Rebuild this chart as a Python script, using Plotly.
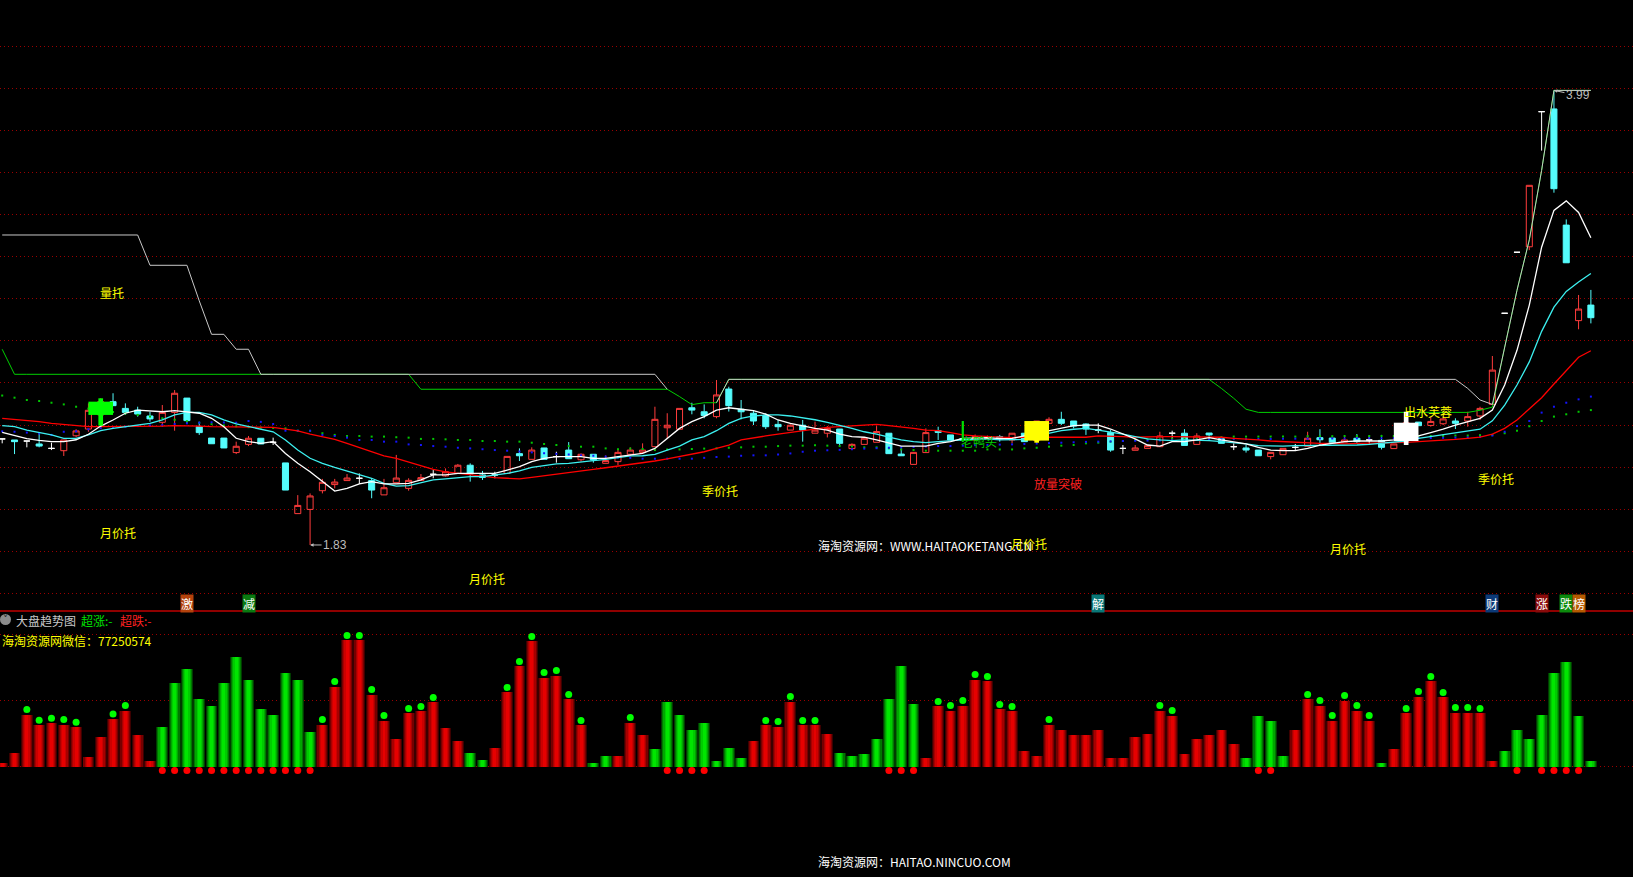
import plotly.graph_objects as go

# ---------------- data ----------------
N = 130
idx = list(range(N))

opens = [2.334, 2.329, 2.324, 2.310, 2.289, 2.278, 2.349, 2.381, 2.448, 2.511,
         2.479, 2.471, 2.443, 2.413, 2.460, 2.528, 2.392, 2.338, 2.338, 2.269,
         2.308, 2.337, 2.318, 2.220, 1.979, 1.999, 2.088, 2.117, 2.136, 2.147,
         2.136, 2.068, 2.126, 2.099, 2.137, 2.166, 2.158, 2.170, 2.209, 2.163,
         2.163, 2.170, 2.264, 2.237, 2.291, 2.250, 2.281, 2.235, 2.261, 2.218,
         2.226, 2.261, 2.270, 2.297, 2.387, 2.380, 2.482, 2.463, 2.440, 2.571,
         2.475, 2.456, 2.445, 2.403, 2.376, 2.399, 2.361, 2.361, 2.381, 2.288,
         2.308, 2.318, 2.361, 2.262, 2.213, 2.269, 2.373, 2.353, 2.335, 2.329,
         2.335, 2.345, 2.329, 2.361, 2.326, 2.408, 2.427, 2.419, 2.405, 2.376,
         2.364, 2.289, 2.280, 2.289, 2.297, 2.361, 2.361, 2.308, 2.362, 2.335,
         2.297, 2.291, 2.281, 2.250, 2.259, 2.294, 2.299, 2.340, 2.338, 2.319,
         2.337, 2.329, 2.327, 2.288, 2.324, 2.414, 2.398, 2.406, 2.419, 2.419,
         2.443, 2.498, 2.931, 3.221, 3.247, 3.889, 3.902, 3.350, 2.896, 2.970]
highs = [2.334, 2.329, 2.324, 2.360, 2.316, 2.329, 2.380, 2.503, 2.527, 2.551,
         2.503, 2.487, 2.463, 2.495, 2.566, 2.528, 2.416, 2.338, 2.338, 2.321,
         2.348, 2.337, 2.340, 2.220, 2.067, 2.075, 2.144, 2.144, 2.167, 2.170,
         2.147, 2.144, 2.258, 2.147, 2.167, 2.186, 2.194, 2.215, 2.218, 2.182,
         2.178, 2.251, 2.289, 2.294, 2.291, 2.273, 2.319, 2.265, 2.261, 2.256,
         2.286, 2.294, 2.313, 2.487, 2.456, 2.479, 2.506, 2.498, 2.614, 2.582,
         2.519, 2.471, 2.456, 2.424, 2.403, 2.424, 2.416, 2.395, 2.381, 2.313,
         2.337, 2.395, 2.361, 2.289, 2.270, 2.384, 2.392, 2.353, 2.345, 2.355,
         2.350, 2.353, 2.361, 2.361, 2.419, 2.437, 2.463, 2.419, 2.408, 2.408,
         2.376, 2.305, 2.305, 2.302, 2.368, 2.373, 2.380, 2.361, 2.362, 2.342,
         2.313, 2.305, 2.281, 2.270, 2.289, 2.310, 2.368, 2.380, 2.338, 2.348,
         2.357, 2.348, 2.353, 2.310, 2.463, 2.414, 2.440, 2.440, 2.432, 2.463,
         2.487, 2.728, 2.931, 3.221, 3.539, 3.889, 3.990, 3.377, 3.018, 3.042]
lows = [2.313, 2.262, 2.294, 2.294, 2.281, 2.253, 2.342, 2.368, 2.397, 2.492,
        2.448, 2.440, 2.416, 2.392, 2.373, 2.408, 2.353, 2.311, 2.291, 2.262,
        2.300, 2.310, 2.305, 2.091, 1.979, 1.830, 2.075, 2.099, 2.136, 2.120,
        2.052, 2.068, 2.126, 2.088, 2.137, 2.147, 2.155, 2.170, 2.131, 2.139,
        2.147, 2.170, 2.229, 2.237, 2.237, 2.221, 2.240, 2.226, 2.221, 2.218,
        2.209, 2.253, 2.265, 2.297, 2.337, 2.380, 2.451, 2.432, 2.432, 2.464,
        2.427, 2.400, 2.381, 2.373, 2.376, 2.321, 2.361, 2.341, 2.300, 2.285,
        2.308, 2.318, 2.264, 2.254, 2.213, 2.269, 2.329, 2.329, 2.321, 2.325,
        2.329, 2.321, 2.313, 2.321, 2.316, 2.408, 2.400, 2.384, 2.353, 2.361,
        2.273, 2.262, 2.280, 2.289, 2.297, 2.321, 2.303, 2.308, 2.329, 2.313,
        2.281, 2.269, 2.254, 2.237, 2.259, 2.281, 2.299, 2.305, 2.314, 2.319,
        2.310, 2.305, 2.284, 2.288, 2.305, 2.397, 2.392, 2.400, 2.381, 2.392,
        2.424, 2.498, 2.931, 3.221, 3.231, 3.704, 3.504, 3.171, 2.855, 2.883]
closes = [2.334, 2.321, 2.324, 2.300, 2.289, 2.329, 2.372, 2.470, 2.511, 2.492,
          2.460, 2.452, 2.429, 2.460, 2.551, 2.421, 2.364, 2.311, 2.291, 2.299,
          2.337, 2.310, 2.318, 2.091, 2.018, 2.063, 2.128, 2.129, 2.148, 2.147,
          2.091, 2.102, 2.148, 2.137, 2.150, 2.166, 2.178, 2.209, 2.167, 2.151,
          2.163, 2.251, 2.254, 2.281, 2.237, 2.250, 2.240, 2.261, 2.234, 2.231,
          2.270, 2.281, 2.281, 2.427, 2.399, 2.479, 2.471, 2.445, 2.543, 2.492,
          2.463, 2.419, 2.392, 2.392, 2.399, 2.376, 2.376, 2.384, 2.313, 2.308,
          2.337, 2.369, 2.264, 2.254, 2.270, 2.364, 2.365, 2.329, 2.329, 2.345,
          2.345, 2.334, 2.361, 2.321, 2.419, 2.427, 2.408, 2.395, 2.381, 2.376,
          2.281, 2.289, 2.291, 2.302, 2.348, 2.361, 2.303, 2.348, 2.353, 2.313,
          2.297, 2.281, 2.254, 2.270, 2.289, 2.294, 2.337, 2.330, 2.314, 2.329,
          2.321, 2.329, 2.294, 2.310, 2.411, 2.397, 2.417, 2.429, 2.408, 2.440,
          2.479, 2.661, 2.931, 3.221, 3.539, 3.889, 3.523, 3.171, 2.951, 2.910]

ma_white = [2.365, 2.351, 2.335, 2.327, 2.321, 2.321, 2.330, 2.356, 2.395, 2.424,
            2.456, 2.471, 2.468, 2.463, 2.468, 2.463, 2.456, 2.432, 2.392, 2.337,
            2.321, 2.313, 2.321, 2.265, 2.218, 2.178, 2.131, 2.086, 2.099, 2.120,
            2.131, 2.120, 2.120, 2.123, 2.139, 2.163, 2.163, 2.170, 2.170, 2.170,
            2.170, 2.186, 2.202, 2.226, 2.242, 2.250, 2.250, 2.250, 2.242, 2.242,
            2.250, 2.258, 2.265, 2.289, 2.337, 2.384, 2.416, 2.440, 2.471, 2.482,
            2.475, 2.468, 2.452, 2.424, 2.408, 2.395, 2.384, 2.376, 2.357, 2.345,
            2.342, 2.329, 2.313, 2.300, 2.300, 2.300, 2.313, 2.321, 2.337, 2.337,
            2.340, 2.335, 2.337, 2.348, 2.361, 2.373, 2.387, 2.397, 2.400, 2.400,
            2.381, 2.357, 2.334, 2.305, 2.300, 2.321, 2.321, 2.329, 2.340, 2.329,
            2.321, 2.310, 2.294, 2.281, 2.278, 2.278, 2.289, 2.305, 2.313, 2.321,
            2.324, 2.324, 2.324, 2.329, 2.337, 2.348, 2.364, 2.380, 2.400, 2.416,
            2.432, 2.471, 2.590, 2.755, 2.970, 3.245, 3.420, 3.465, 3.410, 3.290]
ma_cyan = [2.397, 2.392, 2.376, 2.364, 2.353, 2.337, 2.337, 2.353, 2.373, 2.384,
           2.392, 2.400, 2.408, 2.424, 2.448, 2.460, 2.460, 2.448, 2.424, 2.405,
           2.392, 2.381, 2.368, 2.329, 2.281, 2.242, 2.218, 2.199, 2.182, 2.163,
           2.147, 2.123, 2.110, 2.112, 2.126, 2.139, 2.144, 2.151, 2.155, 2.155,
           2.163, 2.170, 2.182, 2.199, 2.207, 2.215, 2.218, 2.226, 2.231, 2.237,
           2.246, 2.253, 2.254, 2.261, 2.281, 2.300, 2.329, 2.345, 2.373, 2.408,
           2.432, 2.443, 2.448, 2.448, 2.443, 2.435, 2.425, 2.413, 2.400, 2.384,
           2.368, 2.357, 2.342, 2.329, 2.321, 2.316, 2.321, 2.326, 2.329, 2.332,
           2.334, 2.329, 2.329, 2.332, 2.348, 2.361, 2.373, 2.380, 2.384, 2.376,
           2.368, 2.357, 2.345, 2.334, 2.329, 2.326, 2.329, 2.329, 2.326, 2.321,
           2.316, 2.310, 2.302, 2.300, 2.300, 2.302, 2.302, 2.302, 2.303, 2.305,
           2.305, 2.308, 2.313, 2.316, 2.324, 2.337, 2.345, 2.353, 2.361, 2.372,
           2.380, 2.420, 2.495, 2.590, 2.700, 2.845, 2.960, 3.035, 3.080, 3.120]
ma_red = [2.432, 2.427, 2.421, 2.416, 2.408, 2.403, 2.397, 2.392, 2.392, 2.392,
          2.395, 2.395, 2.395, 2.395, 2.397, 2.397, 2.395, 2.392, 2.392, 2.392,
          2.392, 2.392, 2.389, 2.380, 2.372, 2.357, 2.345, 2.332, 2.313, 2.294,
          2.273, 2.253, 2.242, 2.225, 2.205, 2.189, 2.177, 2.170, 2.163, 2.155,
          2.150, 2.147, 2.144, 2.151, 2.158, 2.166, 2.174, 2.182, 2.189, 2.197,
          2.205, 2.210, 2.218, 2.229, 2.239, 2.250, 2.261, 2.273, 2.289, 2.305,
          2.329, 2.340, 2.348, 2.357, 2.365, 2.372, 2.378, 2.389, 2.392, 2.395,
          2.400, 2.403, 2.397, 2.392, 2.384, 2.376, 2.373, 2.364, 2.353, 2.348,
          2.345, 2.342, 2.340, 2.342, 2.342, 2.342, 2.342, 2.342, 2.342, 2.348,
          2.348, 2.345, 2.342, 2.345, 2.345, 2.345, 2.345, 2.345, 2.342, 2.342,
          2.337, 2.334, 2.329, 2.324, 2.321, 2.318, 2.316, 2.313, 2.313, 2.310,
          2.313, 2.313, 2.313, 2.316, 2.318, 2.321, 2.324, 2.329, 2.332, 2.337,
          2.342, 2.357, 2.384, 2.424, 2.475, 2.530, 2.595, 2.660, 2.722, 2.753]

step_grey = [3.303, 3.303, 3.303, 3.303, 3.303, 3.303, 3.303, 3.303, 3.303, 3.303,
             3.303, 3.303, 3.159, 3.159, 3.159, 3.159, 2.990, 2.831, 2.831, 2.760,
             2.760, 2.641, 2.641, 2.641, 2.641, 2.641, 2.641, 2.641, 2.641, 2.641,
             2.641, 2.641, 2.641, 2.641, 2.641, 2.641, 2.641, 2.641, 2.641, 2.641,
             2.641, 2.641, 2.641, 2.641, 2.641, 2.641, 2.641, 2.641, 2.641, 2.641,
             2.641, 2.641, 2.641, 2.641, 2.570, None, None, None, 2.506, 2.617,
             2.617, 2.617, 2.617, 2.617, 2.617, 2.617, 2.617, 2.617, 2.617, 2.617,
             2.617, 2.617, 2.617, 2.617, 2.617, 2.617, 2.617, 2.617, 2.617, 2.617,
             2.617, 2.617, 2.617, 2.617, 2.617, 2.617, 2.617, 2.617, 2.617, 2.617,
             2.617, 2.617, 2.617, 2.617, 2.617, 2.617, 2.617, 2.617, 2.617, 2.617,
             2.617, 2.617, 2.617, 2.617, 2.617, 2.617, 2.617, 2.617, 2.617, 2.617,
             2.617, 2.617, 2.617, 2.617, 2.617, 2.617, 2.617, 2.617, 2.617, 2.574,
             2.519, 2.498, 2.770, 3.040, 3.280, 3.610, 3.990, 3.990, 3.990, 3.990]
step_green = [2.760, 2.641, 2.641, 2.641, 2.641, 2.641, 2.641, 2.641, 2.641, 2.641,
              2.641, 2.641, 2.641, 2.641, 2.641, 2.641, 2.641, 2.641, 2.641, 2.641,
              2.641, 2.641, 2.641, 2.641, 2.641, 2.641, 2.641, 2.641, 2.641, 2.641,
              2.641, 2.641, 2.641, 2.641, 2.570, 2.570, 2.570, 2.570, 2.570, 2.570,
              2.570, 2.570, 2.570, 2.570, 2.570, 2.570, 2.570, 2.570, 2.570, 2.570,
              2.570, 2.570, 2.570, 2.570, 2.570, 2.535, 2.497, 2.506, 2.506, 2.617,
              2.617, 2.617, 2.617, 2.617, 2.617, 2.617, 2.617, 2.617, 2.617, 2.617,
              2.617, 2.617, 2.617, 2.617, 2.617, 2.617, 2.617, 2.617, 2.617, 2.617,
              2.617, 2.617, 2.617, 2.617, 2.617, 2.617, 2.617, 2.617, 2.617, 2.617,
              2.617, 2.617, 2.617, 2.617, 2.617, 2.617, 2.617, 2.617, 2.617, 2.574,
              2.527, 2.475, 2.460, 2.460, 2.460, 2.460, 2.460, 2.460, 2.460, 2.460,
              2.460, 2.460, 2.460, 2.460, 2.460, 2.460, 2.460, 2.460, 2.460, 2.460,
              2.470, 2.485, 2.770, 3.040, 3.280, 3.610, 3.990, 3.990, 3.990, 3.990]

dots_green = [2.540, 2.530, 2.519, 2.514, 2.506, 2.498, 2.487, 2.478, 2.470, 2.462,
              2.455, 2.448, 2.440, 2.432, 2.425, 2.418, 2.410, 2.404, 2.398, 2.394,
              2.390, 2.388, 2.386, 2.384, 2.373, 2.372, 2.361, 2.353, 2.348, 2.348,
              2.345, 2.345, 2.342, 2.340, 2.334, 2.334, 2.332, 2.329, 2.329, 2.324,
              2.324, 2.321, 2.321, 2.316, 2.310, 2.305, 2.300, 2.297, 2.297, 2.289,
              2.285, 2.288, 2.286, 2.281, 2.284, 2.284, 2.286, 2.288, 2.289, 2.292,
              2.294, 2.297, 2.297, 2.300, 2.302, 2.302, 2.304, 2.302, 2.300, 2.298,
              2.294, 2.294, 2.289, 2.284, 2.281, 2.278, 2.278, 2.278, 2.278, 2.278,
              2.284, 2.284, 2.284, 2.289, 2.292, 2.297, 2.302, 2.305, 2.313, 2.316,
              2.321, 2.324, 2.329, 2.332, 2.332, 2.335, 2.335, 2.337, 2.340, 2.342,
              2.345, 2.345, 2.345, 2.345, 2.345, 2.345, 2.347, 2.347, 2.347, 2.348,
              2.348, 2.348, 2.348, 2.348, 2.348, 2.348, 2.348, 2.348, 2.350, 2.350,
              2.352, 2.353, 2.361, 2.373, 2.394, 2.419, 2.440, 2.451, 2.463, 2.471]
dots_blue = [2.370, 2.368, 2.364, 2.360, 2.353, 2.368, 2.370, 2.380, 2.385, 2.390,
             2.392, 2.395, 2.398, 2.400, 2.405, 2.408, 2.411, 2.413, 2.412, 2.411,
             2.419, 2.415, 2.405, 2.373, 2.373, 2.373, 2.353, 2.348, 2.340, 2.329,
             2.329, 2.321, 2.321, 2.308, 2.305, 2.300, 2.297, 2.292, 2.289, 2.285,
             2.281, 2.278, 2.274, 2.270, 2.266, 2.263, 2.260, 2.256, 2.254, 2.250,
             2.246, 2.244, 2.240, 2.240, 2.240, 2.240, 2.240, 2.244, 2.248, 2.250,
             2.254, 2.256, 2.256, 2.260, 2.265, 2.273, 2.278, 2.280, 2.282, 2.285,
             2.288, 2.290, 2.292, 2.294, 2.296, 2.298, 2.300, 2.300, 2.302, 2.304,
             2.305, 2.307, 2.308, 2.310, 2.312, 2.314, 2.316, 2.318, 2.320, 2.321,
             2.322, 2.324, 2.325, 2.326, 2.327, 2.328, 2.329, 2.330, 2.331, 2.332,
             2.333, 2.333, 2.334, 2.334, 2.335, 2.335, 2.335, 2.336, 2.336, 2.336,
             2.337, 2.337, 2.337, 2.337, 2.338, 2.338, 2.338, 2.339, 2.340, 2.341,
             2.343, 2.350, 2.368, 2.395, 2.419, 2.459, 2.487, 2.506, 2.522, 2.535]

# highlighted signal candles (thick blocks)
sig_k = [8, 84, 114]
sig_top = [2.511, 2.419, 2.411]
sig_bottom = [2.448, 2.326, 2.324]
sig_high = [2.527, 2.419, 2.463]
sig_low = [2.397, 2.316, 2.305]
sig_color = ["#00ff00", "#ffff00", "#ffffff"]
duck_k = [78]
duck_high = [2.419]
duck_low = [2.321]

# lower panel (大盘趋势图)
trend_vals = [2.5, 10.6, 39.4, 31.3, 32.8, 31.8, 29.8, 7.1, 22.7, 35.9,
              42.4, 23.7, 4.5, 30.3, 62.9, 73.5, 50.8, 45.5, 63.6, 83.3,
              65.2, 43.9, 39.4, 70.5, 65.9, 26.5, 31.8, 60.6, 95.5, 95.5,
              54.5, 34.8, 20.5, 40.2, 41.7, 48.5, 28.8, 19.7, 10.6, 5.3,
              14.4, 56.1, 75.8, 94.7, 67.4, 68.9, 50.8, 31.1, 2.3, 7.6,
              8.3, 33.3, 24.2, 12.9, 48.5, 39.4, 28.0, 33.3, 4.5, 14.4,
              6.8, 19.7, 31.1, 30.3, 49.2, 31.1, 31.1, 25.0, 10.6, 7.6,
              9.8, 20.5, 51.5, 75.8, 47.7, 6.1, 45.5, 42.4, 46.2, 65.9,
              64.4, 43.2, 41.7, 12.1, 8.3, 31.8, 28.0, 24.2, 23.5, 28.0,
              6.8, 6.8, 22.0, 25.0, 42.4, 38.6, 9.1, 20.5, 23.5, 27.3,
              17.4, 6.8, 37.9, 34.8, 7.6, 28.0, 50.8, 46.2, 34.8, 50.0,
              42.4, 34.8, 3.0, 12.9, 40.2, 53.0, 64.4, 52.3, 40.9, 40.9,
              40.2, 4.5, 12.1, 28.0, 21.2, 39.4, 70.5, 79.5, 38.6, 3.8]
trend_cols = ["r", "r", "r", "r", "r", "r", "r", "r", "r", "r",
              "r", "r", "r", "g", "g", "g", "g", "g", "g", "g",
              "g", "g", "g", "g", "g", "g", "r", "r", "r", "r",
              "r", "r", "r", "r", "r", "r", "r", "r", "g", "g",
              "r", "r", "r", "r", "r", "r", "r", "r", "g", "g",
              "r", "r", "r", "g", "g", "g", "g", "g", "g", "g",
              "g", "r", "r", "r", "r", "r", "r", "r", "g", "g",
              "g", "g", "g", "g", "g", "r", "r", "r", "r", "r",
              "r", "r", "r", "r", "r", "r", "r", "r", "r", "r",
              "r", "r", "r", "r", "r", "r", "r", "r", "r", "r",
              "r", "g", "g", "g", "g", "r", "r", "r", "r", "r",
              "r", "r", "g", "r", "r", "r", "r", "r", "r", "r",
              "r", "r", "g", "g", "g", "g", "g", "g", "g", "g"]
up_dot_k = [2, 3, 4, 5, 6, 9, 10, 26, 27, 28, 29, 30, 31, 33, 34, 35, 41, 42, 43,
            44, 45, 46, 47, 51, 62, 63, 64, 65, 66, 76, 77, 78, 79, 80, 81, 82, 85,
            94, 95, 106, 107, 108, 109, 110, 111, 114, 115, 116, 117, 118, 119, 120]
down_dot_k = [13, 14, 15, 16, 17, 18, 19, 20, 21, 22, 23, 24, 25, 54, 55, 56, 57,
              72, 73, 74, 102, 103, 123, 125, 126, 127, 128]

tag_k = [15, 20, 89, 121, 125, 127, 128]
tag_text = ["激", "减", "解", "财", "涨", "跌", "榜"]
tag_bg = ["#b4420c", "#0a7a10", "#0a7878", "#0c3a78", "#8a0a0a", "#0c8a0c", "#b65a00"]

price_grid = [1.6, 1.8, 2.0, 2.2, 2.4, 2.6, 2.8, 3.0, 3.2, 3.4, 3.6, 3.8, 4.0, 4.2]
trend_grid = [0, 50, 100]

# ---------------- figure ----------------
W, H = 1633, 877
SPLIT = 611.0               # pixel row of the panel separator
dom_split = 1 - SPLIT / H
CJK = "SimSun, 'Noto Sans CJK SC', sans-serif"
BLOCK_HALF = 1.0            # half width (in bars) of a highlighted block
STEM_HALF = 0.19            # half width of its stem

fig = go.Figure()

# step lines
fig.add_trace(go.Scatter(x=idx, y=step_green, mode="lines", line=dict(color="#00d000", width=1),
                         hoverinfo="skip", connectgaps=False))
fig.add_trace(go.Scatter(x=idx, y=step_grey, mode="lines", line=dict(color="#c8c8c8", width=1),
                         hoverinfo="skip", connectgaps=False))
# dotted averages
fig.add_trace(go.Scatter(x=idx, y=dots_green, mode="markers",
                         marker=dict(symbol="square", size=2, color="#00c800"), hoverinfo="skip"))
fig.add_trace(go.Scatter(x=idx, y=dots_blue, mode="markers",
                         marker=dict(symbol="square", size=2, color="#1414ff"), hoverinfo="skip"))

# candles
up = [k for k in idx if closes[k] > opens[k]]
dn = [k for k in idx if closes[k] < opens[k]]
dj = [k for k in idx if closes[k] == opens[k]]


def candle(ks, line_color, fill):
    style = dict(line=dict(color=line_color, width=1), fillcolor=fill)
    return go.Candlestick(x=[idx[k] for k in ks], open=[opens[k] for k in ks],
                          high=[highs[k] for k in ks], low=[lows[k] for k in ks],
                          close=[closes[k] for k in ks], increasing=style, decreasing=style,
                          whiskerwidth=0, hoverinfo="skip", xaxis="x", yaxis="y")


fig.add_trace(candle(up, "#ff3c3c", "rgba(0,0,0,0)"))
fig.add_trace(candle(dn, "#54fcfc", "#54fcfc"))
fig.add_trace(candle(dj, "#ffffff", "#ffffff"))

# moving averages
fig.add_trace(go.Scatter(x=idx, y=ma_red, mode="lines", line=dict(color="#ff0000", width=1.3), hoverinfo="skip"))
fig.add_trace(go.Scatter(x=idx, y=ma_cyan, mode="lines", line=dict(color="#3cf0f0", width=1.3), hoverinfo="skip"))
fig.add_trace(go.Scatter(x=idx, y=ma_white, mode="lines", line=dict(color="#ffffff", width=1.3), hoverinfo="skip"))


# highlighted blocks, drawn on top of everything in the price panel
def rect(xc, half, y0, y1):
    return [xc - half, xc + half, xc + half, xc - half, xc - half], [y0, y0, y1, y1, y0]


for k, t, b, h, l, c in zip(sig_k, sig_top, sig_bottom, sig_high, sig_low, sig_color):
    for half, y0, y1 in ((BLOCK_HALF, b, t), (STEM_HALF, l, h)):
        xs, ys = rect(idx[k], half, y0, y1)
        fig.add_trace(go.Scatter(x=xs, y=ys, mode="lines", fill="toself", fillcolor=c,
                                 line=dict(width=0, color=c), hoverinfo="skip"))
for k, h, l in zip(duck_k, duck_high, duck_low):
    xs, ys = rect(idx[k], 0.09, l, h)
    fig.add_trace(go.Scatter(x=xs, y=ys, mode="lines", fill="toself", fillcolor="#00e000",
                             line=dict(width=0, color="#00e000"), hoverinfo="skip"))

# lower panel: shaded bars (layers give the cylinder look)
layers = [(0.96, "#3c0000", "#003c00"), (0.80, "#760000", "#007600"), (0.62, "#a60000", "#00a600"),
          (0.44, "#cc0000", "#00cc00"), (0.24, "#e60000", "#00e600")]
for wdt, rc, gc in layers:
    fig.add_trace(go.Bar(x=idx, y=trend_vals, width=wdt,
                         marker=dict(color=[rc if c == "r" else gc for c in trend_cols], line=dict(width=0)),
                         hoverinfo="skip", xaxis="x2", yaxis="y2"))
fig.add_trace(go.Scatter(x=up_dot_k, y=[trend_vals[k] + 3.8 for k in up_dot_k], mode="markers",
                         marker=dict(size=7, color="#00ff00"), hoverinfo="skip", xaxis="x2", yaxis="y2",
                         cliponaxis=False))
fig.add_trace(go.Scatter(x=down_dot_k, y=[-3.0 for _ in down_dot_k], mode="markers",
                         marker=dict(size=7, color="#ff0000"), hoverinfo="skip", xaxis="x2", yaxis="y2",
                         cliponaxis=False))

ann = []
yellow = "#ffff00"


def paper_text(text, px, py, color, size=12, family=CJK, xanchor="left"):
    return dict(text=text, x=px / W, y=1 - py / H, xref="paper", yref="paper", xanchor=xanchor,
                yanchor="middle", showarrow=False, font=dict(family=family, size=size, color=color))


labels = [("量托", 8.92, 3.032, yellow), ("月价托", 9.4, 1.887, yellow), ("月价托", 39.4, 1.673, yellow),
          ("季价托", 58.3, 2.087, yellow), ("放量突破", 85.7, 2.120, "#ff2020"),
          ("老鸭头", 79.3, 2.321, "#00d000"), ("季价托", 121.3, 2.148, yellow),
          ("出水芙蓉", 115.8, 2.462, yellow), ("月价托", 109.3, 1.811, yellow)]
ann.append(paper_text("海淘资源网：WWW.HAITAOKETANG.CN", 816, 545, "#ffffff"))
for t, xv, yv, c in labels:
    ann.append(dict(text=t, x=xv, y=yv, xref="x", yref="y", showarrow=False, xanchor="center",
                    yanchor="middle", font=dict(family=CJK, size=12, color=c)))
ann.append(dict(text="月价托", x=83.4, y=1.839, xref="x", yref="y", showarrow=False, xanchor="center",
                yanchor="middle", font=dict(family=CJK, size=12, color=yellow)))
# extreme labels
low_k = lows.index(min(lows))
high_k = highs.index(max(highs))
ann.append(dict(text="%.2f" % min(lows), x=idx[low_k], y=min(lows), xref="x", yref="y", showarrow=True,
                arrowhead=2, arrowsize=0.7, arrowwidth=1, arrowcolor="#bdbdbd", ax=25, ay=0, standoff=0,
                font=dict(family="Liberation Sans, Arial", size=12, color="#bdbdbd")))
ann.append(dict(text="%.2f" % max(highs), x=idx[high_k], y=max(highs), xref="x", yref="y", showarrow=True,
                arrowhead=2, arrowsize=0.7, arrowwidth=1, arrowcolor="#bdbdbd", ax=24, ay=5, standoff=0,
                font=dict(family="Liberation Sans, Arial", size=12, color="#bdbdbd")))
# tags above the separator
for k, t, bg in zip(tag_k, tag_text, tag_bg):
    ann.append(dict(text=t, x=k, y=1 - 603.7 / H, xref="x", yref="paper", showarrow=False, bgcolor=bg,
                    xanchor="center", yanchor="middle", borderpad=0,
                    font=dict(family=CJK, size=12, color="#ffffff")))
# lower panel header
ann.append(paper_text("大盘趋势图", 14, 620, "#c8c8c8"))
ann.append(paper_text("超涨:-", 79, 620, "#00e000"))
ann.append(paper_text("超跌:-", 118, 620, "#ff2020"))
ann.append(paper_text("海淘资源网微信：77250574", 0, 640, yellow))
ann.append(paper_text("˅", 5.5, 619, "#202020", size=10, family="DejaVu Sans", xanchor="center"))
ann.append(paper_text("海淘资源网：HAITAO.NINCUO.COM", 816, 861, "#ffffff"))

shapes = [
    dict(type="line", xref="paper", yref="paper", x0=0, x1=1, y0=dom_split, y1=dom_split,
         line=dict(color="#c00000", width=1.5)),
    dict(type="circle", xref="paper", yref="paper", x0=0 / W, x1=11 / W, y0=1 - 625 / H, y1=1 - 614 / H,
         fillcolor="#8c8c8c", line=dict(width=0)),
]

axis_common = dict(showticklabels=False, zeroline=False, showline=False, ticks="")
fig.update_layout(
    width=W, height=H, margin=dict(l=0, r=0, t=0, b=0),
    paper_bgcolor="#000000", plot_bgcolor="#000000", showlegend=False,
    barmode="overlay", bargap=0,
    xaxis=dict(domain=[0, 1], range=[-0.179, 132.42], showgrid=False, anchor="y",
               rangeslider=dict(visible=False), **axis_common),
    yaxis=dict(domain=[dom_split, 1], range=[1.5163, 4.4196], tickvals=price_grid, showgrid=True,
               gridcolor="#9a0000", griddash="1px,3px", gridwidth=1, anchor="x", **axis_common),
    xaxis2=dict(domain=[0, 1], matches="x", showgrid=False, anchor="y2", **axis_common),
    yaxis2=dict(domain=[0, dom_split], range=[-83.7, 117.8], tickvals=trend_grid, showgrid=True,
                gridcolor="#9a0000", griddash="1px,3px", gridwidth=1, anchor="x2", **axis_common),
    annotations=ann, shapes=shapes,
)

fig.write_html("out.html", config={"displayModeBar": False},
               post_script="document.body.style.margin='0';document.body.style.overflow='hidden';")
